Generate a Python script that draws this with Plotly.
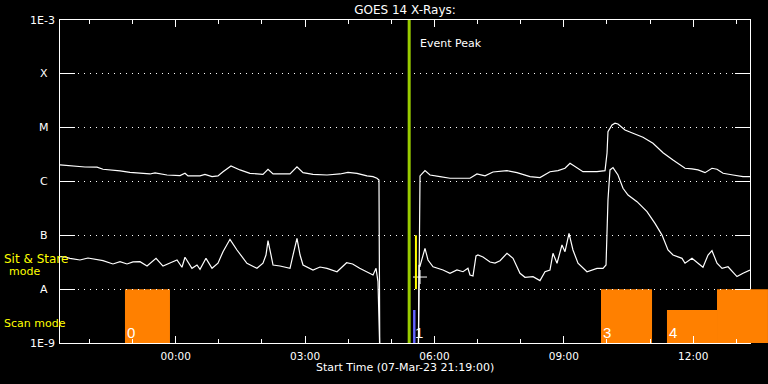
import math
import pandas as pd
import plotly.graph_objects as go

# ---------------- data ----------------
START = "2023-03-07 21:19"
END_MIN = 960.0  # axis spans 16 h

# long channel (upper curve): minutes after start, flux W/m^2
long_min = [0, 13.9, 34.8, 51.5, 59.8, 83.5, 97.4, 125.2, 132.2, 148.9, 167.0, 173.9,
            178.1, 194.8, 201.7, 211.5, 219.8, 226.8, 237.9, 250.4, 264.3, 282.4, 289.4,
            296.4, 320.0, 329.7, 338.1, 352.0, 371.5, 389.6, 400.7, 413.2, 421.6, 427.1,
            435.5, 441.0, 443.8, 445.2, 498.1, 500.9, 507.8, 514.8, 528.7, 542.6, 556.5,
            570.4, 580.1, 591.3, 602.4, 612.2, 621.9, 635.8, 653.9, 667.8, 681.7, 692.9,
            702.6, 709.6, 719.3, 727.6, 747.1, 758.3, 761.1, 762.4, 768.0, 772.2, 776.3,
            786.1, 797.2, 811.1, 825.0, 839.0, 852.9, 869.6, 879.3, 887.7, 897.4, 907.1,
            914.1, 922.5, 936.4, 950.3, 960.0]
long_flux = [2.03e-6, 1.94e-6, 1.86e-6, 1.85e-6, 1.69e-6, 1.57e-6, 1.48e-6, 1.38e-6, 1.44e-6,
             1.32e-6, 1.29e-6, 1.42e-6, 1.27e-6, 1.27e-6, 1.36e-6, 1.23e-6, 1.27e-6, 1.52e-6,
             1.94e-6, 1.64e-6, 1.42e-6, 1.36e-6, 1.69e-6, 1.38e-6, 1.38e-6, 1.88e-6, 1.46e-6,
             1.36e-6, 1.32e-6, 1.38e-6, 1.48e-6, 1.42e-6, 1.32e-6, 1.27e-6, 1.23e-6, 1.15e-6,
             1.07e-6, 1.0e-10, 1.0e-10, 1.27e-6, 1.59e-6, 1.32e-6, 1.23e-6, 1.15e-6, 1.15e-6,
             1.15e-6, 1.38e-6, 1.27e-6, 1.50e-6, 1.52e-6, 1.59e-6, 1.46e-6, 1.23e-6, 1.18e-6,
             1.52e-6, 1.59e-6, 1.76e-6, 2.18e-6, 1.76e-6, 1.52e-6, 1.52e-6, 1.59e-6, 3.39e-6,
             8.42e-6, 1.12e-5, 1.21e-5, 1.17e-5, 9.06e-6, 7.87e-6, 6.63e-6, 5.13e-6, 3.43e-6,
             2.51e-6, 1.76e-6, 1.71e-6, 1.64e-6, 1.46e-6, 1.76e-6, 1.69e-6, 1.42e-6, 1.32e-6,
             1.23e-6, 1.23e-6]

# short channel (lower curve)
short_min = [0, 6.96, 13.9, 27.8, 38.9, 45.9, 59.8, 73.7, 83.5, 93.2, 101.6, 111.3, 121.1,
             133.6, 143.3, 153.0, 162.8, 169.7, 173.9, 183.6, 190.6, 194.8, 203.1, 211.5,
             219.8, 226.8, 236.5, 246.2, 260.1, 274.0, 282.4, 286.6, 289.4, 293.6, 296.4,
             306.1, 320.0, 324.2, 329.7, 334.0, 338.1, 352.0, 361.7, 371.5, 385.4, 398.8,
             407.1, 416.9, 430.8, 435.5, 439.7, 442.4, 446.6, 498.1, 499.5, 500.9, 507.8,
             512.0, 519.0, 532.9, 542.6, 552.3, 560.7, 567.6, 570.4, 574.6, 578.8, 581.5,
             588.5, 598.3, 605.2, 612.2, 621.9, 630.3, 640.0, 646.9, 658.1, 667.8, 674.8,
             681.7, 685.9, 691.5, 698.4, 702.6, 708.2, 713.7, 720.7, 733.2, 747.1, 755.5,
             759.7, 762.4, 765.2, 769.4, 776.3, 783.3, 790.3, 802.8, 816.7, 827.8, 837.6,
             845.9, 852.9, 865.4, 869.6, 879.3, 887.7, 894.6, 901.6, 907.1, 914.1, 921.1,
             929.4, 941.9, 950.3, 960.0]
short_flux = [4.01e-8, 3.96e-8, 3.74e-8, 3.48e-8, 3.79e-8, 3.63e-8, 3.38e-8, 2.94e-8, 3.24e-8,
              2.94e-8, 3.20e-8, 3.24e-8, 2.69e-8, 3.74e-8, 2.69e-8, 3.06e-8, 3.48e-8, 2.55e-8,
              3.91e-8, 2.44e-8, 2.81e-8, 2.34e-8, 3.74e-8, 2.44e-8, 3.03e-8, 4.97e-8, 8.44e-8,
              5.34e-8, 3.03e-8, 2.44e-8, 3.03e-8, 4.31e-8, 7.95e-8, 4.31e-8, 2.81e-8, 2.69e-8,
              2.44e-8, 4.31e-8, 8.81e-8, 4.31e-8, 2.81e-8, 2.27e-8, 2.58e-8, 2.44e-8, 2.11e-8,
              3.10e-8, 2.94e-8, 2.44e-8, 1.97e-8, 1.83e-8, 2.44e-8, 1.38e-8, 1.0e-10, 1.0e-10,
              2.81e-8, 2.69e-8, 5.74e-8, 3.48e-8, 2.61e-8, 2.27e-8, 1.97e-8, 2.27e-8, 2.11e-8,
              2.44e-8, 1.83e-8, 1.76e-8, 4.13e-8, 4.31e-8, 3.96e-8, 3.20e-8, 3.06e-8, 3.38e-8,
              4.64e-8, 3.74e-8, 1.97e-8, 1.66e-8, 1.71e-8, 1.44e-8, 2.11e-8, 2.27e-8, 4.64e-8,
              3.03e-8, 6.62e-8, 4.97e-8, 1.09e-7, 5.34e-8, 3.03e-8, 2.11e-8, 2.44e-8, 2.44e-8,
              2.81e-8, 4.54e-7, 1.64e-6, 1.81e-6, 1.32e-6, 7.48e-7, 5.61e-7, 4.22e-7, 2.75e-7,
              1.67e-7, 1.01e-7, 5.34e-8, 4.31e-8, 3.74e-8, 3.03e-8, 3.74e-8, 3.03e-8, 2.55e-8,
              4.31e-8, 5.19e-8, 3.03e-8, 2.44e-8, 2.61e-8, 1.71e-8, 1.97e-8, 2.27e-8]

# observing-mode bars
bar_start_min = [90.4, 491.2, 752.7, 844.5, 914.1]
bar_end_min = [153.0, 494.6, 823.7, 914.1, 985.0]
bar_top = [1e-8, 4.1e-9, 1e-8, 4.1e-9, 1e-8]
bar_colors = ["#ff8000", "#6464ff", "#ff8000", "#ff8000", "#ff8000"]
bar_labels = ["0", "1", "3", "4", ""]

event_peak_min = 485.8
yellow_min = 495.2
yellow_range = [1e-8, 1e-7]
cross_min = [500.9]
cross_flux = [1.68e-8]

ytick_vals = [1e-3, 1e-4, 1e-5, 1e-6, 1e-7, 1e-8, 1e-9]
ytick_text = ["1E-3", "X", "M", "C", "B", "A", "1E-9"]
xtick0 = "2023-03-08 00:00"

# ---------------- helpers ----------------
start = pd.Timestamp(START)
def t(m):
    return start + pd.to_timedelta(m, unit="min")
def ts(m):
    return t(m).strftime("%Y-%m-%d %H:%M:%S")

FONT = "DejaVu Sans"
W, H = 768, 384
ML, MR, MT, MB = 60, 18, 20, 41
PW, PH = W - ML - MR, H - MT - MB

def px2paper_x(px):
    return (px - ML) / PW
def px2paper_y(py):
    return (H - MB - py) / PH

fig = go.Figure()
fig.add_trace(go.Scatter(x=[t(m) for m in long_min], y=long_flux, mode="lines",
                         line=dict(color="white", width=1.2), showlegend=False))
fig.add_trace(go.Scatter(x=[t(m) for m in short_min], y=short_flux, mode="lines",
                         line=dict(color="white", width=1.2), showlegend=False))
fig.add_trace(go.Scatter(x=[t(m) for m in cross_min], y=cross_flux, mode="markers",
                         marker=dict(symbol="cross-thin", size=10,
                                     line=dict(color="white", width=1)),
                         showlegend=False))

shapes = []
annotations = []
for s, e, top, c, lab in zip(bar_start_min, bar_end_min, bar_top, bar_colors, bar_labels):
    if e <= END_MIN:
        shapes.append(dict(type="rect", xref="x", yref="y", x0=ts(s), x1=ts(e),
                           y0=1e-9, y1=top, fillcolor=c, line=dict(width=0), layer="below"))
    else:
        shapes.append(dict(type="rect", xref="x", yref="y", x0=ts(s), x1=ts(END_MIN),
                           y0=1e-9, y1=top, fillcolor=c, line=dict(width=0), layer="below"))
        shapes.append(dict(type="rect", xref="paper", yref="y", x0=1.0, x1=e / END_MIN,
                           y0=1e-9, y1=top, fillcolor=c, line=dict(width=0), layer="above"))
    if lab:
        annotations.append(dict(text=lab, x=ts(s), xref="x", y=px2paper_y(332), yref="paper",
                                xanchor="left", yanchor="middle", xshift=0, showarrow=False,
                                font=dict(family="Liberation Sans", size=15, color="white")))

shapes.append(dict(type="line", xref="x", yref="paper", x0=ts(event_peak_min), x1=ts(event_peak_min),
                   y0=0, y1=1, line=dict(color="#99cc00", width=3)))
shapes.append(dict(type="line", xref="x", yref="y", x0=ts(yellow_min), x1=ts(yellow_min),
                   y0=yellow_range[0], y1=yellow_range[1], line=dict(color="#ffff00", width=2)))

annotations.append(dict(text="Event Peak", x=ts(event_peak_min), xref="x", y=px2paper_y(43),
                        yref="paper", xanchor="left", yanchor="middle", xshift=9, showarrow=False,
                        font=dict(family=FONT, size=11, color="white")))

for v, txt in zip(ytick_vals, ytick_text):
    yp = (math.log10(v) + 9) / 6
    if len(txt) > 1:
        annotations.append(dict(text=txt, x=px2paper_x(57), xref="paper", y=yp, yref="paper",
                                xanchor="right", yanchor="middle", showarrow=False,
                                font=dict(family=FONT, size=11, color="white")))
    else:
        annotations.append(dict(text=txt, x=px2paper_x(44), xref="paper", y=yp, yref="paper",
                                xanchor="center", yanchor="middle", showarrow=False,
                                font=dict(family=FONT, size=11, color="white")))

ylw = dict(family=FONT, size=11, color="#ffff00")
annotations += [
    dict(text="Sit & Stare", x=px2paper_x(2), xref="paper", y=px2paper_y(258.5), yref="paper",
         xanchor="left", yanchor="middle", showarrow=False,
         font=dict(family=FONT, size=12, color="#ffff00")),
    dict(text="mode", x=px2paper_x(24), xref="paper", y=px2paper_y(271), yref="paper",
         xanchor="center", yanchor="middle", showarrow=False, font=ylw),
    dict(text="Scan mode", x=px2paper_x(2), xref="paper", y=px2paper_y(323.5), yref="paper",
         xanchor="left", yanchor="middle", showarrow=False, font=ylw),
    dict(text="Start Time (07-Mar-23 21:19:00)", x=0.5, xref="paper", y=px2paper_y(367.5),
         yref="paper", xanchor="center", yanchor="middle", showarrow=False,
         font=dict(family=FONT, size=11, color="white")),
]

fig.update_layout(
    width=W, height=H,
    margin=dict(l=ML, r=MR, t=MT, b=MB),
    paper_bgcolor="black", plot_bgcolor="black",
    title=dict(text="GOES 14 X-Rays:", x=(ML + PW / 2) / W, xanchor="center",
               y=1 - 10 / H, yanchor="middle",
               font=dict(family=FONT, size=12, color="white")),
    shapes=shapes, annotations=annotations, showlegend=False,
)
fig.update_xaxes(
    type="date", range=[ts(0), ts(END_MIN)], tick0=xtick0, dtick=3 * 3600 * 1000,
    tickformat="%H:%M", ticks="inside", ticklen=7, tickcolor="white", tickwidth=1,
    showline=True, linecolor="white", linewidth=1, mirror="allticks",
    showgrid=False, zeroline=False, ticklabelstandoff=3,
    tickfont=dict(family=FONT, size=10.5, color="white"),
    minor=dict(dtick=3600 * 1000, ticks="inside", ticklen=4, tickcolor="white", showgrid=False),
)
fig.update_yaxes(
    type="log", range=[-9, -3], tickvals=ytick_vals, showticklabels=False,
    ticks="inside", ticklen=15, tickcolor="white", tickwidth=1,
    showline=True, linecolor="white", linewidth=1, mirror="allticks",
    showgrid=True, gridcolor="white", gridwidth=1, griddash="1px,5px", zeroline=False,
)

fig.write_html("out.html")
